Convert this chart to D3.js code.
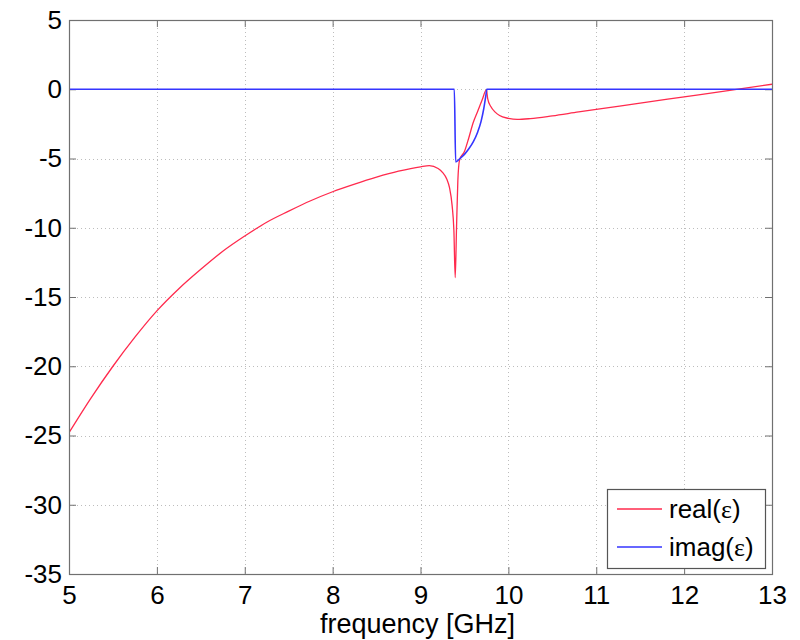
<!DOCTYPE html>
<html>
<head>
<meta charset="utf-8">
<script src="https://cdn.jsdelivr.net/npm/d3@7"></script>
<style>
  html, body { margin: 0; padding: 0; background: #fff; }
  svg { display: block; font-family: "Liberation Sans", Arial, sans-serif; }
</style>
</head>
<body>
<svg id="chart" width="800" height="640"></svg>
<script>
// Frequency samples (GHz) and permittivity values
const freqReal = [5.0, 5.25, 5.5, 5.75, 6.0, 6.25, 6.5, 6.75, 7.0, 7.25, 7.5, 7.75, 8.0, 8.25, 8.5, 8.75,
  9.0, 9.1, 9.2, 9.25, 9.3, 9.33, 9.36, 9.38, 9.395, 9.41, 9.425, 9.445, 9.5, 9.55, 9.6, 9.65, 9.7, 9.75,
  9.765, 9.8, 9.85, 9.9, 10.0, 10.1, 10.25, 10.5, 10.8, 11.0, 11.5, 12.0, 12.5, 13.0];
const realEps = [-24.8, -22.3, -20.0, -17.9, -16.0, -14.4, -13.0, -11.7, -10.6, -9.6, -8.8, -8.05, -7.4, -6.85, -6.35, -5.92,
  -5.6, -5.52, -5.72, -6.0, -6.5, -7.1, -8.4, -10.2, -13.6, -10.0, -6.6, -5.1, -4.5, -3.5, -2.4, -1.6, -0.8, -0.05,
  -0.7, -1.25, -1.65, -1.9, -2.1, -2.18, -2.12, -1.92, -1.64, -1.46, -1.0, -0.55, -0.1, 0.36];

const freqImag = [5.0, 9.385, 9.4, 9.45, 9.5, 9.55, 9.6, 9.65, 9.69, 9.72, 9.745, 9.755, 13.0];
const imagEps = [0, 0, -5.25, -5.0, -4.7, -4.3, -3.8, -3.1, -2.3, -1.4, -0.4, 0, 0];

const xTicks = [5, 6, 7, 8, 9, 10, 11, 12, 13];
const yTicks = [5, 0, -5, -10, -15, -20, -25, -30, -35];
const seriesNames = ["real(\u03b5)", "imag(\u03b5)"];
const seriesColors = ["#ff2a4d", "#3535ff"];

const svg = d3.select("#chart");
const plotL = 69, plotR = 772, plotT = 20, plotB = 574;

const x = d3.scaleLinear().domain([5, 13]).range([plotL, plotR]);
const y = d3.scaleLinear().domain([-35, 5]).range([plotB, plotT]);

// dotted grid
const grid = svg.append("g").attr("stroke", "#bdbdbd").attr("stroke-width", 1)
  .attr("stroke-dasharray", "1,3").attr("shape-rendering", "crispEdges");
grid.selectAll("line.v").data(xTicks.slice(1, -1)).join("line").attr("class", "v")
  .attr("x1", d => Math.round(x(d)) + 0.5).attr("x2", d => Math.round(x(d)) + 0.5)
  .attr("y1", plotT).attr("y2", plotB);
grid.selectAll("line.h").data(yTicks.slice(1, -1)).join("line").attr("class", "h")
  .attr("x1", plotL).attr("x2", plotR)
  .attr("y1", d => Math.round(y(d)) + 0.5).attr("y2", d => Math.round(y(d)) + 0.5);

// axes with inward ticks on all four sides
const axisColor = "#707070";
function styleAxis(g) {
  g.select(".domain").remove();
  g.selectAll(".tick line").attr("stroke", axisColor);
  g.selectAll(".tick text").attr("fill", "#000").attr("font-size", 26)
    .attr("font-family", "\"Liberation Sans\", Arial, sans-serif");
}
const fmt = d => String(d);
svg.append("g").attr("transform", `translate(0,${plotB})`)
  .call(d3.axisBottom(x).tickValues(xTicks).tickFormat(fmt).tickSizeInner(-7).tickSizeOuter(0).tickPadding(12))
  .call(styleAxis);
svg.append("g").attr("transform", `translate(0,${plotT})`)
  .call(d3.axisTop(x).tickValues(xTicks).tickFormat("").tickSizeInner(-7).tickSizeOuter(0))
  .call(styleAxis);
svg.append("g").attr("transform", `translate(${plotL},0)`)
  .call(d3.axisLeft(y).tickValues(yTicks).tickFormat(fmt).tickSizeInner(-7).tickSizeOuter(0).tickPadding(7))
  .call(styleAxis);
svg.append("g").attr("transform", `translate(${plotR},0)`)
  .call(d3.axisRight(y).tickValues(yTicks).tickFormat("").tickSizeInner(-7).tickSizeOuter(0))
  .call(styleAxis);

// data lines
svg.append("clipPath").attr("id", "plotClip")
  .append("rect").attr("x", plotL).attr("y", plotT).attr("width", plotR - plotL).attr("height", plotB - plotT);

const line = d3.line().x(d => x(d[0])).y(d => y(d[1])).curve(d3.curveMonotoneX);
const realPts = freqReal.map((f, i) => [f, realEps[i]]);
const imagPts = freqImag.map((f, i) => [f, imagEps[i]]);

const plot = svg.append("g").attr("clip-path", "url(#plotClip)");
plot.append("path").datum(realPts).attr("d", line)
  .attr("fill", "none").attr("stroke", seriesColors[0]).attr("stroke-width", 1.3);
plot.append("path").datum(imagPts).attr("d", line)
  .attr("fill", "none").attr("stroke", seriesColors[1]).attr("stroke-width", 1.6);

// plot box
svg.append("rect").attr("x", plotL + 0.5).attr("y", plotT + 0.5)
  .attr("width", plotR - plotL).attr("height", plotB - plotT)
  .attr("fill", "none").attr("stroke", axisColor).attr("stroke-width", 1.2);

// x-axis label
svg.append("text").attr("x", (plotL + plotR) / 2 - 3).attr("y", 633)
  .attr("text-anchor", "middle").attr("font-size", 27).attr("fill", "#000")
  .text("frequency [GHz]");

// legend
const legend = svg.append("g");
legend.append("rect").attr("x", 607.5).attr("y", 489.5).attr("width", 158).attr("height", 79)
  .attr("fill", "#fff").attr("stroke", "#555").attr("stroke-width", 1.2);
const rows = legend.selectAll("g.row").data(seriesNames).join("g").attr("class", "row")
  .attr("transform", (d, i) => `translate(0,${509 + i * 38})`);
rows.append("line").attr("x1", 617).attr("x2", 662).attr("y1", 0).attr("y2", 0)
  .attr("stroke", (d, i) => seriesColors[i]).attr("stroke-width", 1.3);
rows.append("text").attr("x", 669).attr("y", 9).attr("font-size", 26).attr("fill", "#000")
  .each(function(d) {
    const t = d3.select(this);
    const parts = d.split("\u03b5");
    t.append("tspan").text(parts[0]);
    t.append("tspan").attr("font-family", "\"Liberation Serif\", serif").text("\u03b5");
    t.append("tspan").text(parts[1]);
  });
</script>
</body>
</html>
